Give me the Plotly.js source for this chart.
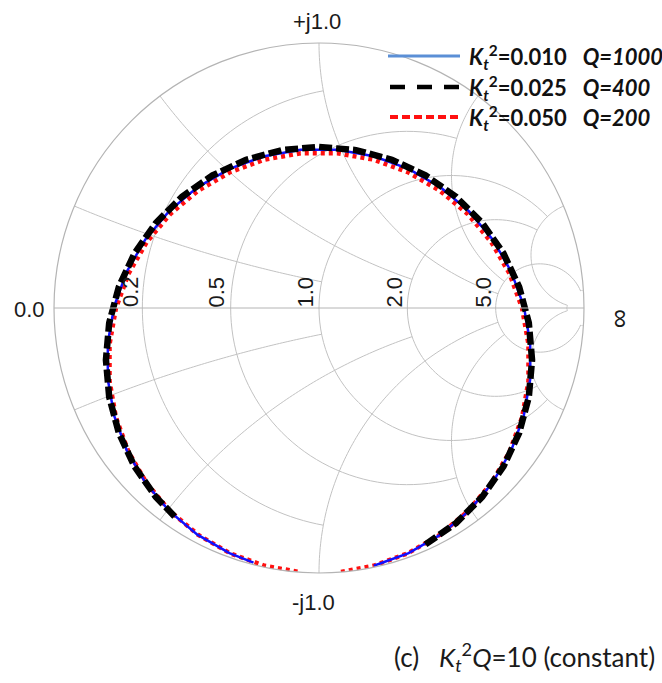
<!DOCTYPE html>
<html>
<head>
<meta charset="utf-8">
<script src="https://cdn.plot.ly/plotly-3.0.1.min.js"></script>
<style>html,body{margin:0;padding:0;background:#fff;}#chart{width:662px;height:683px;}</style>
</head>
<body>
<div id="chart"></div>
<script>
// Normalized impedance z = r + jx (one array pair per curve)
const blueRe = [0.0069, 0.0232, 0.0565, 0.121, 0.2468, 0.506, 1.091, 2.562, 5.978, 7.792, 4.809, 2.710, 1.6946, 1.1639, 0.8546, 0.6575, 0.5228, 0.4257, 0.3524, 0.2952, 0.2492, 0.2113, 0.1794, 0.1520, 0.1282, 0.1072, 0.0885, 0.0717, 0.0566, 0.0430, 0.0309, 0.0202, 0.0113, 0.0063];
const blueIm = [-1.235, -1.430, -1.670, -1.976, -2.383, -2.948, -3.745, -4.733, -4.476, 0.273, 2.917, 2.786, 2.2688, 1.8207, 1.4711, 1.1972, 0.9772, 0.7956, 0.6417, 0.5082, 0.3899, 0.2829, 0.1844, 0.0922, 0.0045, -0.0803, -0.1634, -0.2461, -0.3296, -0.4151, -0.5041, -0.5982, -0.6992, -0.7753];

const blackRe = [0.0366, 0.0826, 0.1717, 0.3503, 0.7364, 1.6696, 4.1021, 7.949, 6.4074, 3.5102, 2.0673, 1.3582, 0.9675, 0.7289, 0.5712, 0.4602, 0.3783, 0.3153, 0.2654, 0.2247, 0.1908, 0.1619, 0.1370, 0.1151, 0.0957, 0.0784, 0.0628, 0.0487, 0.0361, 0.0270];
const blackIm = [-1.5467, -1.8191, -2.1744, -2.6587, -3.3450, -4.3031, -5.1021, -2.4236, 2.3930, 3.0591, 2.5618, 2.0493, 1.6460, 1.3342, 1.0880, 0.8878, 0.7206, 0.5772, 0.4515, 0.3390, 0.2364, 0.1411, 0.0512, -0.0351, -0.1190, -0.2020, -0.2851, -0.3697, -0.4570, -0.5299];

const redRe = [0.0010, 0.0071, 0.0236, 0.0575, 0.1228, 0.2494, 0.5080, 1.0835, 2.4955, 5.6773, 7.5645, 4.8834, 2.7979, 1.7572, 1.2079, 0.8867, 0.6818, 0.5418, 0.4408, 0.3647, 0.3054, 0.2576, 0.2183, 0.1852, 0.1569, 0.1322, 0.1105, 0.0912, 0.0738, 0.0582, 0.0442, 0.0317, 0.0208, 0.0116, 0.0047, 0.0006];
const redIm = [-1.0868, -1.2331, -1.4256, -1.6624, -1.9636, -2.3619, -2.9095, -3.6745, -4.5989, -4.3770, -0.0413, 2.6992, 2.6979, 2.2276, 1.7971, 1.4552, 1.1851, 0.9673, 0.7870, 0.6340, 0.5011, 0.3833, 0.2767, 0.1786, 0.0867, -0.0007, -0.0852, -0.1680, -0.2504, -0.3335, -0.4187, -0.5073, -0.6008, -0.7013, -0.8109, -0.9333];

// Smith grid: constant-r circles / constant-x arcs and where each one stops
const gridValues = [0.2, 0.5, 1, 2, 5, 30];
const gridLimits = [1, 2, 5, 5, 30, 5];
const realTickLabels = ['0.2', '0.5', '1.0', '2.0', '5.0'];
const seriesNames = [
  '<b><i>K</i><sub><i>t</i></sub><sup>2</sup>=0.010\u00a0\u00a0\u00a0<i>Q=1000</i></b>',
  '<b><i>K</i><sub><i>t</i></sub><sup>2</sup>=0.025\u00a0\u00a0\u00a0<i>Q=400</i></b>',
  '<b><i>K</i><sub><i>t</i></sub><sup>2</sup>=0.050\u00a0\u00a0\u00a0<i>Q=200</i></b>'
];

const W = 662, H = 683;
const px = x => x / W;
const py = y => 1 - y / H;

// --- grid helpers (reflection-plane sampling, handed to the smith axes as r/x) ---
function toGamma(r, x) {
  const den = (r + 1) * (r + 1) + x * x;
  return [((r - 1) * (r + 1) + x * x) / den, 2 * x / den];
}
function toZ(u, v) {
  const den = (1 - u) * (1 - u) + v * v;
  return [Math.max(0, (1 - u * u - v * v) / den), 2 * v / den];
}
const gridCol = '#c2c2c2';
const gridTraces = [];
function addGrid(re, im) {
  gridTraces.push({type: 'scattersmith', real: re, imag: im, mode: 'lines',
    line: {color: gridCol, width: 1}, showlegend: false, hoverinfo: 'skip'});
}
const N = 90;
gridValues.forEach((r, k) => {
  const L = gridLimits[k];
  const c = r / (1 + r), rho = 1 / (1 + r);
  const g = toGamma(r, L);
  const t0 = Math.atan2(g[1], g[0] - c);
  const re = [], im = [];
  for (let i = 0; i <= N; i++) {
    const t = t0 + (2 * Math.PI - 2 * t0) * i / N;
    const z = toZ(c + rho * Math.cos(t), rho * Math.sin(t));
    re.push(r); im.push(z[1]);
  }
  addGrid(re, im);
  [1, -1].forEach(sgn => {
    const x = sgn * r;
    const cy = 1 / x, R = Math.abs(1 / x);
    const a = toGamma(0, x), b = toGamma(L, x);
    const a0 = Math.atan2(a[1] - cy, a[0] - 1);
    let d = Math.atan2(b[1] - cy, b[0] - 1) - a0;
    while (d > Math.PI) d -= 2 * Math.PI;
    while (d < -Math.PI) d += 2 * Math.PI;
    const re2 = [], im2 = [];
    for (let i = 0; i <= N; i++) {
      const t = a0 + d * i / N;
      const z = toZ(1 + R * Math.cos(t), cy + R * Math.sin(t));
      re2.push(z[0]); im2.push(z[1]);
    }
    addGrid(re2, im2);
  });
});

const traces = gridTraces.concat([
  {type: 'scattersmith', real: redRe, imag: redIm, mode: 'lines',
   line: {color: '#ff1010', width: 4.5, dash: '4px,4px'}, showlegend: false, hoverinfo: 'skip'},
  {type: 'scattersmith', real: blueRe, imag: blueIm, mode: 'lines',
   line: {color: '#1010ff', width: 2.5}, showlegend: false, hoverinfo: 'skip'},
  {type: 'scattersmith', real: blackRe, imag: blackIm, mode: 'lines',
   line: {color: '#000000', width: 6.5, dash: '13px,4px'}, showlegend: false, hoverinfo: 'skip'}
]);

const labelFont = {family: 'Liberation Sans, Arial, sans-serif', size: 22, color: '#1a1a1a'};
const ann = (text, x, y, extra) => Object.assign({text: text, x: px(x), y: py(y), xref: 'paper', yref: 'paper',
  xanchor: 'center', yanchor: 'middle', showarrow: false, font: labelFont}, extra || {});

const annotations = [
  ann('+j1.0', 317, 21),
  ann('-j1.0', 313, 602),
  ann('0.0', 29, 310),
  ann('\u221e', 621, 318, {textangle: 90, font: {family: 'Liberation Sans, Arial, sans-serif', size: 27, color: '#1a1a1a'}})
];
const realLabelX = [130, 215.5, 304.5, 393.5, 482.5];
realTickLabels.forEach((t, i) => annotations.push(ann(t, realLabelX[i], 292, {textangle: -90})));
const legendY = [56, 87, 117];
seriesNames.forEach((t, i) => {
  annotations.push(ann(t, 467, legendY[i] + 1, {xanchor: 'left',
    font: {family: 'Lato, Open Sans, sans-serif', size: 22, color: '#111'}}));
});
annotations.push(ann('(c)\u00a0\u00a0\u00a0<i>K<sub>t</sub></i><sup>2</sup><i>Q</i>=10 (constant)', 657, 657,
  {xanchor: 'right', font: {family: 'Lato, Open Sans, sans-serif', size: 26, color: '#1a1a1a'}}));

const shapes = [
  {type: 'line', xref: 'paper', yref: 'paper', x0: px(388), x1: px(460), y0: py(legendY[0]), y1: py(legendY[0]),
   line: {color: '#5b8fd6', width: 3}},
  {type: 'line', xref: 'paper', yref: 'paper', x0: px(390), x1: px(460), y0: py(legendY[1]), y1: py(legendY[1]),
   line: {color: '#000', width: 4.5, dash: '15px,12px'}},
  {type: 'line', xref: 'paper', yref: 'paper', x0: px(390), x1: px(460), y0: py(legendY[2]), y1: py(legendY[2]),
   line: {color: '#ff1010', width: 4, dash: '8px,4px'}}
];

const layout = {
  width: W, height: H,
  margin: {l: 0, r: 0, t: 0, b: 0},
  paper_bgcolor: '#fff',
  showlegend: false,
  smith: {
    domain: {x: [px(54), px(584)], y: [py(573), py(43)]},
    bgcolor: '#fff',
    realaxis: {showgrid: false, showticklabels: false, linecolor: '#b4b4b4', linewidth: 1, ticks: ''},
    imaginaryaxis: {showgrid: false, showticklabels: false, linecolor: '#b4b4b4', linewidth: 1.2, ticks: ''}
  },
  annotations: annotations,
  shapes: shapes
};

Plotly.newPlot('chart', traces, layout, {displayModeBar: false, staticPlot: true});
</script>
</body>
</html>
